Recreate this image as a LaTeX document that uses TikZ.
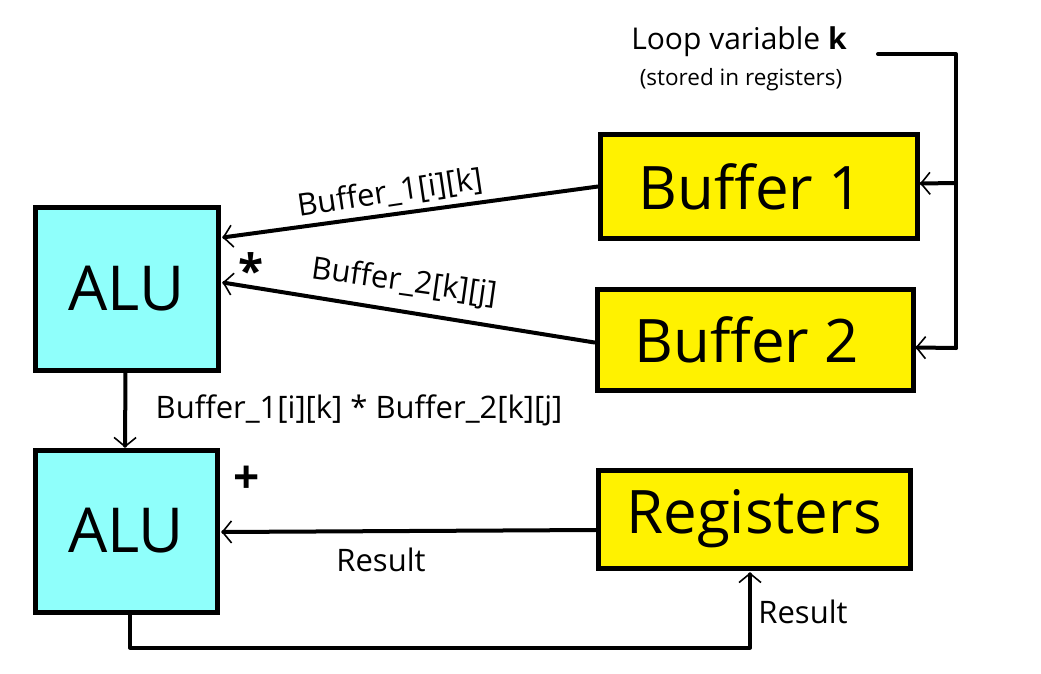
\documentclass[tikz,border=0pt]{standalone}
\usepackage{fontspec}
\setmainfont{Open Sans}
\usetikzlibrary{arrows.meta,calc}
\definecolor{alucyan}{RGB}{143,255,251}
\definecolor{bufyellow}{RGB}{255,242,0}
\tikzset{
  alubox/.style={draw=black,line width=5pt,fill=alucyan,inner sep=0pt,font=\fontsize{62}{64}\selectfont},
  bufbox/.style={draw=black,line width=5pt,fill=bufyellow,inner sep=0pt,font=\fontsize{60}{64}\selectfont},
  conn/.style={line width=4pt,line cap=round,line join=round},
  arr/.style={conn,-{Straight Barb[length=9pt,width=22pt,line width=1.6pt]}},
  hand/.style={font=\fontsize{31}{34}\selectfont,inner sep=0pt},
  sym/.style={font=\fontsize{46}{48}\selectfont\bfseries,inner sep=0pt}
}
\begin{document}
\begin{tikzpicture}[x=1pt,y=-1pt]
\useasboundingbox (0,0) rectangle (1041,674);
% boxes
\node[alubox,minimum width=183pt,minimum height=163pt] (alu1) at (126.5,288.5) {ALU};
\node[alubox,minimum width=182pt,minimum height=162pt] (alu2) at (126,531) {ALU};
\node[bufbox,minimum width=317pt,minimum height=103pt] (buf1) at (759,186.5) {\hspace*{-16pt}Buffer 1};
\node[bufbox,minimum width=316pt,minimum height=101pt] (buf2) at (755,339.5) {\hspace*{-16pt}Buffer 2};
\node[bufbox,minimum width=312pt,minimum height=98pt] (reg) at (754,519) {Registers};
% loop variable text
\node[font=\fontsize{30}{32}\selectfont,inner sep=0pt] (loop) at (739,42) {Loop variable \textbf{k}};
\node[font=\fontsize{22.5}{24}\selectfont,inner sep=0pt] (stored) at (741,80) {(stored in registers)};
% connectors
\draw[arr] (buf1.west) -- ($(alu1.north east)+(2,33)$);
\draw[arr] ($(buf2.west)+(0,3)$) -- ($(alu1.east)+(2,-6)$);
\draw[arr] ($(alu1.south)+(-1,0)$) -- ($(alu2.north)+(-1,0)$);
\draw[arr] ($(reg.west)+(0,11)$) -- ($(alu2.east)+(2,1)$);
\draw[arr] ($(alu2.south)+(4,0)$) -- ++(0,33) -| ($(reg.south)+(-4,2)$);
\coordinate (kstart) at (878,54);
\coordinate (kjoin1) at (956,183);
\coordinate (kjoin2) at (956,348);
\draw[conn] (kstart) -| (kjoin2);
\draw[arr] (kjoin1) -- ($(buf1.east)+(0,-3)$);
\draw[arr] (kjoin2) -- ($(buf2.east)+(0,8)$);
% labels
\node[hand,rotate=8.5] (l1) at (390,193) {Buffer\_1[i][k]};
\node[hand,rotate=-8] (l2) at (404,283) {Buffer\_2[k][j]};
\node[sym] (mul) at (251,270) {*};
\node[hand] (l3) at (359,410) {Buffer\_1[i][k] * Buffer\_2[k][j]};
\node[sym] (plus) at (247,480) {+};
\node[hand] (r1) at (381,560) {Result};
\node[hand] (r2) at (803,612) {Result};
\end{tikzpicture}
\end{document}
